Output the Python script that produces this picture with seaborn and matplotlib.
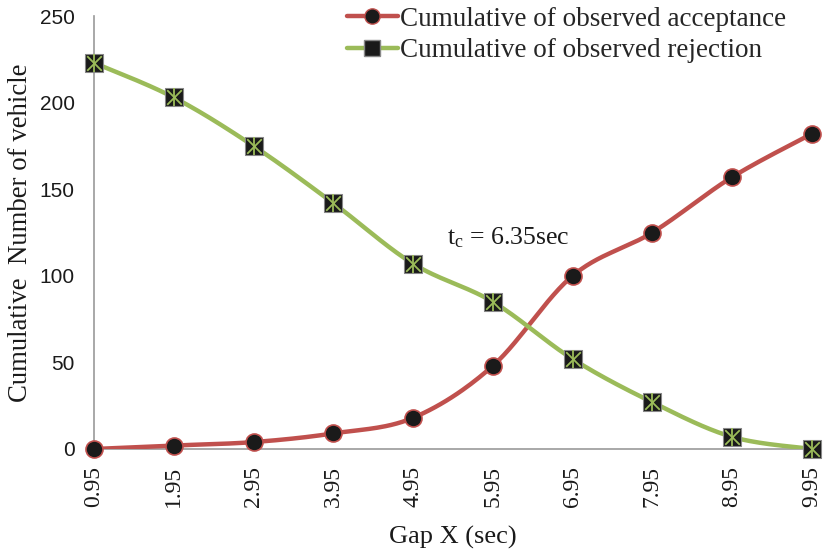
import numpy as np
import pandas as pd
import matplotlib
matplotlib.use('Agg')
import matplotlib.pyplot as plt
import seaborn as sns

# Values
gap_labels = ['0.95', '1.95', '2.95', '3.95', '4.95', '5.95', '6.95', '7.95', '8.95', '9.95']
acceptance = [0, 2, 4, 9, 18, 48, 100, 125, 157, 182]
rejection = [223, 203, 175, 142, 107, 85, 52, 27, 7, 0]

red = '#C0504D'
green = '#9BBB59'

sns.set_style('white')
plt.rcParams['font.family'] = ['Liberation Serif', 'DejaVu Serif']
plt.rcParams['mathtext.fontset'] = 'custom'
plt.rcParams['mathtext.rm'] = 'Liberation Serif'
plt.rcParams['mathtext.it'] = 'Liberation Serif'


# Excel-style smoothed line (bezier through the points)
def smooth(y, n=30):
    x = np.arange(len(y), dtype=float)
    y = np.asarray(y, dtype=float)
    px = np.concatenate([[x[0]], x, [x[-1]]])
    py = np.concatenate([[y[0]], y, [y[-1]]])
    xs, ys = [], []
    t = np.linspace(0, 1, n)
    for i in range(1, len(px) - 2):
        p0 = np.array([px[i], py[i]])
        p3 = np.array([px[i + 1], py[i + 1]])
        c1 = p0 + (np.array([px[i + 1], py[i + 1]]) - np.array([px[i - 1], py[i - 1]])) / 6
        c2 = p3 - (np.array([px[i + 2], py[i + 2]]) - np.array([px[i], py[i]])) / 6
        b = ((1 - t) ** 3)[:, None] * p0 + (3 * (1 - t) ** 2 * t)[:, None] * c1 \
            + (3 * (1 - t) * t ** 2)[:, None] * c2 + (t ** 3)[:, None] * p3
        xs.extend(b[:, 0])
        ys.extend(b[:, 1])
    return pd.DataFrame({'x': xs, 'y': ys})


fig = plt.figure(figsize=(8.25, 5.55), dpi=100)
ax = fig.add_axes([0.114, 0.191, 0.870, 0.780])

pos = np.arange(len(gap_labels))
sa = smooth(acceptance)
sr = smooth(rejection)

sns.lineplot(data=sa, x='x', y='y', ax=ax, color=red, linewidth=3.2, sort=False,
             estimator=None, zorder=3)
sns.lineplot(data=sr, x='x', y='y', ax=ax, color=green, linewidth=3.2, sort=False,
             estimator=None, zorder=3)

# markers
sns.scatterplot(x=pos, y=acceptance, ax=ax, marker='o', s=150, color='#1a1a1a',
                edgecolor=red, linewidth=1.2, zorder=5, clip_on=False)
sns.scatterplot(x=pos, y=rejection, ax=ax, marker='s', s=170, color='#1a1a1a',
                edgecolor='#888888', linewidth=0.8, zorder=5, clip_on=False)
sns.scatterplot(x=pos, y=rejection, ax=ax, marker='x', s=110, color=green,
                linewidth=1.3, zorder=6, clip_on=False)
sns.scatterplot(x=pos, y=rejection, ax=ax, marker='|', s=150, color=green,
                linewidth=1.3, zorder=6, clip_on=False)

# legend handles
h1, = ax.plot([], [], color=red, linewidth=3.2, marker='o', markersize=11,
              markerfacecolor='#1a1a1a', markeredgecolor=red)
h2, = ax.plot([], [], color=green, linewidth=3.2, marker='s', markersize=11,
              markerfacecolor='#1a1a1a', markeredgecolor='#888888')
leg = ax.legend([h1, h2], ['Cumulative of observed acceptance', 'Cumulative of observed rejection'],
                loc='upper left', bbox_to_anchor=(0.352, 1.022), frameon=False,
                fontsize=19.5, handlelength=1.9, handletextpad=0.05, labelspacing=0.25,
                borderaxespad=0, borderpad=0)

ax.text(4.42, 118, r'$\mathrm{t_c}$ = 6.35sec', fontsize=18.5, color='#1a1a1a')

ax.set_xlim(0, len(gap_labels) - 1)
ax.set_ylim(0, 250)
ax.set_xticks(pos)
ax.set_xticklabels(gap_labels, rotation=90, fontsize=17)
ax.set_yticks(range(0, 251, 50))
ax.set_yticklabels([str(v) for v in range(0, 251, 50)], fontsize=15,
                   family=['Liberation Sans', 'DejaVu Sans'])
ax.tick_params(axis='both', direction='out', length=6, color='#999999', width=1,
               labelcolor='#1a1a1a', pad=6)
ax.tick_params(axis='y', pad=8)
ax.set_xlabel('Gap X (sec)', fontsize=19, color='#1a1a1a', labelpad=14)
ax.set_ylabel('Cumulative  Number of vehicle', fontsize=19.3, color='#1a1a1a', labelpad=5)

sns.despine(ax=ax)
for s in ['left', 'bottom']:
    ax.spines[s].set_color('#999999')
    ax.spines[s].set_linewidth(1.2)

fig.savefig('out.png', dpi=100)
